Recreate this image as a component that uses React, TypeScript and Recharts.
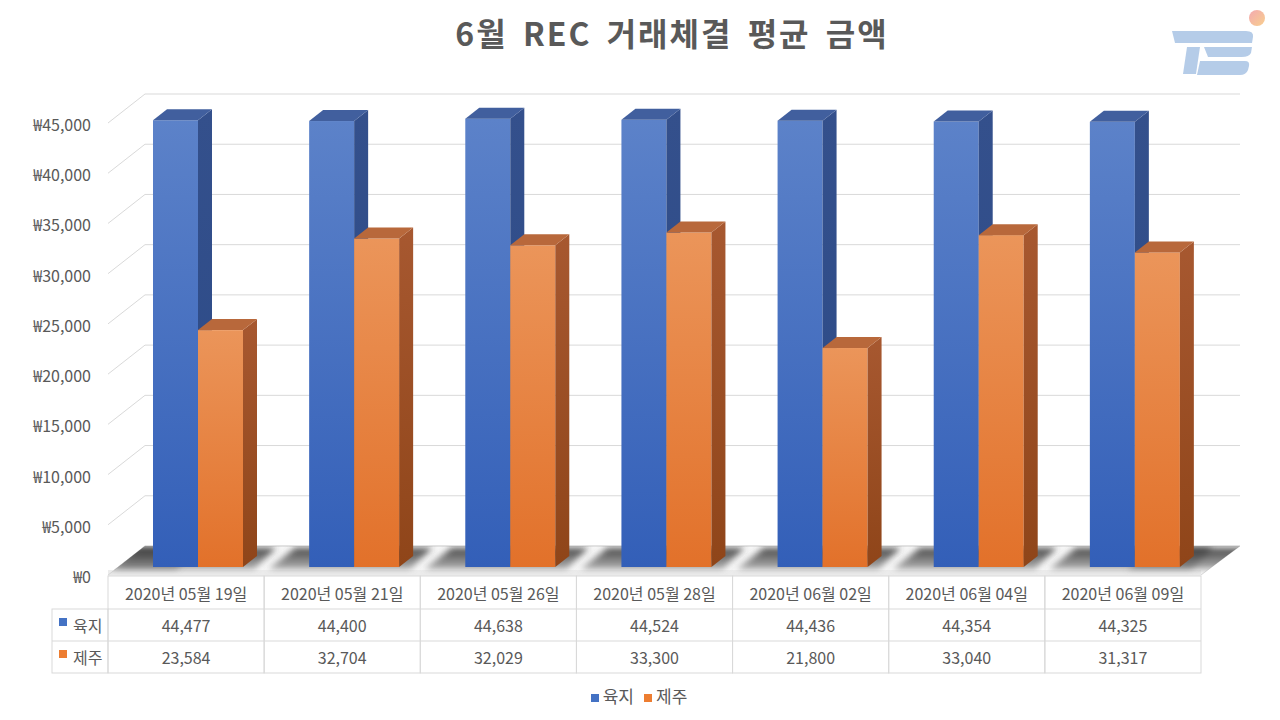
import React from 'react';
import { BarChart, Bar, XAxis, YAxis, CartesianGrid, Legend } from 'recharts';

const categories = [
  '2020년 05월 19일',
  '2020년 05월 21일',
  '2020년 05월 26일',
  '2020년 05월 28일',
  '2020년 06월 02일',
  '2020년 06월 04일',
  '2020년 06월 09일',
];
const yukjiValues = [44477, 44400, 44638, 44524, 44436, 44354, 44325];
const jejuValues = [23584, 32704, 32029, 33300, 21800, 33040, 31317];
const seriesNames = ['육지', '제주'];
const seriesColors = ['#4472C4', '#ED7D31'];
const yTicks = [0, 5000, 10000, 15000, 20000, 25000, 30000, 35000, 40000, 45000];
const title = '6월 REC 거래체결 평균 금액';

const data = categories.map((c, i) => ({ date: c, yukji: yukjiValues[i], jeju: jejuValues[i] }));

const FONT = '"Noto Sans CJK KR", "Noto Sans", sans-serif';
const TXT = '#595959';
const GRID = '#d9d9d9';
const DX = 14;
const DY = 11;
const SHIFT = 12;

const fmt = (v: number) => v.toLocaleString('en-US');

const makeShape = (kind: 'blue' | 'orange') => (props: any) => {
  const { x, y, width, height } = props;
  if (width == null || height == null) return null;
  const fx = x + SHIFT;
  const front = `url(#${kind}Front)`;
  const side = `url(#${kind}Side)`;
  const topC = kind === 'blue' ? '#415f9e' : '#b8683b';
  return (
    <g>
      <rect x={fx} y={y} width={width} height={height} fill={front} />
      <polygon
        points={`${fx + width},${y} ${fx + width + DX},${y - DY} ${fx + width + DX},${y + height - DY} ${fx + width},${y + height}`}
        fill={side}
      />
      <polygon
        points={`${fx},${y} ${fx + DX},${y - DY} ${fx + width + DX},${y - DY} ${fx + width},${y}`}
        fill={topC}
      />
    </g>
  );
};

const BlueShape = makeShape('blue');
const OrangeShape = makeShape('orange');

const horizontalLine = (p: any) => {
  const { x1, x2, y1, index } = p;
  const y = y1;
  const bottom = p.y != null && p.height != null ? p.y + p.height : null;
  const isBottom = bottom != null ? Math.abs(y - bottom) < 1 : index === 0;
  return (
    <g key={`h-${index}`}>
      {isBottom && (
        <g>
          <defs>
            <clipPath id="floorClip">
              <polygon points={`${x1},${y + 8} ${x1 + 37},${y - 21} ${x2 + 39},${y - 21} ${x2},${y + 8}`} />
            </clipPath>
          </defs>
          <polygon
            points={`${x1},${y + 8} ${x1 + 37},${y - 21} ${x2 + 39},${y - 21} ${x2},${y + 8}`}
            fill="#f7f7f7"
            stroke={GRID}
          />
          <polygon
            points={`${x1},${y + 3} ${x2},${y + 3} ${x2},${y + 8} ${x1},${y + 8}`}
            fill="#ececec"
          />
        </g>
      )}
      <line x1={x1} y1={y + 8} x2={x1 + 37} y2={y - 21} stroke={GRID} strokeWidth={1} />
      <line x1={x1 + 37} y1={y - 21} x2={x2 + 39} y2={y - 21} stroke={GRID} strokeWidth={1} />
    </g>
  );
};

const verticalLine = (p: any) => {
  const { x1, index } = p;
  const bottom = p.y + p.height;
  const c = x1;
  const t = bottom - 19;
  const b = bottom + 2;
  return (
    <g key={`v-${index}`} clipPath="url(#floorClip)">
      <polygon
        points={`${c - 47},${t} ${c + 90},${t} ${c + 68},${b} ${c - 74},${b}`}
        fill="url(#shadowGrad)"
        filter="url(#shadowBlur)"
      />
    </g>
  );
};

const YTick = (p: any) => {
  const { x, y, payload } = p;
  return (
    <text x={x - 17} y={y + 9} textAnchor="end" dominantBaseline="central" fill={TXT} fontSize={16} fontFamily={FONT}>
      {'₩' + fmt(payload.value)}
    </text>
  );
};

const TableTick = (p: any) => {
  const { x, y, payload } = p;
  const i = payload.index;
  const half = payload.offset && payload.offset > 10 ? payload.offset : 78.07;
  const top = y + 9;
  const r1 = top + 33;
  const r2 = top + 65;
  const r3 = top + 97;
  const left = x - half;
  const right = x + half;
  const ts = { fill: TXT, fontSize: 16, fontFamily: FONT, textAnchor: 'middle' as const, dominantBaseline: 'central' as const };
  return (
    <g>
      <rect x={left} y={top} width={right - left} height={r3 - top} fill="none" stroke={GRID} />
      <line x1={left} y1={r1} x2={right} y2={r1} stroke={GRID} />
      <line x1={left} y1={r2} x2={right} y2={r2} stroke={GRID} />
      <text x={x} y={(top + r1) / 2} {...ts}>{categories[i]}</text>
      <text x={x} y={(r1 + r2) / 2} {...ts}>{fmt(yukjiValues[i])}</text>
      <text x={x} y={(r2 + r3) / 2} {...ts}>{fmt(jejuValues[i])}</text>
      {i === 0 && (
        <g>
          <rect x={left - 56} y={r1} width={56} height={r3 - r1} fill="none" stroke={GRID} />
          <line x1={left - 56} y1={r2} x2={left} y2={r2} stroke={GRID} />
          {seriesNames.map((n, k) => {
            const cy = k === 0 ? (r1 + r2) / 2 : (r2 + r3) / 2;
            return (
              <g key={n}>
                <rect x={left - 49} y={cy - 7} width={8} height={8} fill={seriesColors[k]} />
                <text x={left - 35} y={cy} fill={TXT} fontSize={16} fontFamily={FONT} dominantBaseline="central">
                  {n}
                </text>
              </g>
            );
          })}
        </g>
      )}
    </g>
  );
};

export default function App() {
  return (
    <div style={{ position: 'absolute', left: 0, top: 0, width: 1280, height: 720, background: '#fff', fontFamily: FONT }}>
      <svg width={0} height={0} style={{ position: 'absolute' }}>
        <defs>
          <linearGradient id="blueFront" x1="0" y1="0" x2="0" y2="1">
            <stop offset="0%" stopColor="#5c82c9" />
            <stop offset="100%" stopColor="#335fb8" />
          </linearGradient>
          <linearGradient id="blueSide" x1="0" y1="0" x2="0" y2="1">
            <stop offset="0%" stopColor="#34508c" />
            <stop offset="100%" stopColor="#2b4a87" />
          </linearGradient>
          <linearGradient id="orangeFront" x1="0" y1="0" x2="0" y2="1">
            <stop offset="0%" stopColor="#eb955a" />
            <stop offset="100%" stopColor="#e2712a" />
          </linearGradient>
          <linearGradient id="orangeSide" x1="0" y1="0" x2="0" y2="1">
            <stop offset="0%" stopColor="#a75830" />
            <stop offset="100%" stopColor="#8f4519" />
          </linearGradient>
          <linearGradient id="shadowGrad" x1="0" y1="0" x2="0" y2="1">
            <stop offset="0%" stopColor="#3a3a3a" stopOpacity={0.95} />
            <stop offset="100%" stopColor="#7a7a7a" stopOpacity={0.6} />
          </linearGradient>
          <filter id="shadowBlur" x="-20%" y="-50%" width="140%" height="200%">
            <feGaussianBlur stdDeviation="3" />
          </filter>
          <linearGradient id="logoDot" x1="0" y1="0" x2="1" y2="1">
            <stop offset="0%" stopColor="#f3a9b0" />
            <stop offset="100%" stopColor="#f8cf8e" />
          </linearGradient>
        </defs>
      </svg>
      <BarChart
        width={1280}
        height={720}
        data={data}
        margin={{ top: 115, right: 79, bottom: 43, left: 48 }}
        barGap={0}
        barSize={45}
      >
        <CartesianGrid horizontal={horizontalLine} vertical={verticalLine} />
        <YAxis
          type="number"
          domain={[0, 45000]}
          ticks={yTicks}
          width={60}
          axisLine={false}
          tickLine={false}
          tickSize={0}
          tickMargin={0}
          tick={YTick}
          interval={0}
        />
        <XAxis
          dataKey="date"
          height={110}
          axisLine={false}
          tickLine={false}
          tickSize={0}
          tickMargin={0}
          interval={0}
          tick={TableTick}
        />
        <Bar dataKey="yukji" name={seriesNames[0]} fill={seriesColors[0]} shape={BlueShape} isAnimationActive={false} />
        <Bar dataKey="jeju" name={seriesNames[1]} fill={seriesColors[1]} shape={OrangeShape} isAnimationActive={false} />
        <Legend
          verticalAlign="middle"
          align="center"
          layout="horizontal"
          iconType="square"
          iconSize={8}
          wrapperStyle={{ top: 683, left: 4, width: 1280, fontSize: 17, fontFamily: FONT }}
          formatter={(v: any) => <span style={{ color: TXT }}>{v}</span>}
        />
      </BarChart>
      <svg width={1280} height={90} style={{ position: 'absolute', left: 0, top: 0, pointerEvents: 'none' }}>
        <text
          x={672}
          y={46}
          textAnchor="middle"
          fill={TXT}
          fontSize={32}
          fontWeight="bold"
          fontFamily={FONT}
          letterSpacing={2}
          wordSpacing={6}
        >
          {title}
        </text>
        <g fill="#aec7e6" opacity={0.9}>
          <path d="M1172,31 L1246,31 Q1254,31 1253,37 L1252,43 L1175,43 Z" />
          <path d="M1187,47 L1200,47 L1196,74 L1183,74 Z" />
          <path d="M1204,47 L1252,47 L1251,53 Q1249,57 1242,57 L1208,57 Z" />
          <path d="M1200,61 L1245,61 Q1250,61 1249,66 L1248,70 Q1246,75 1240,75 L1197,75 Z" />
        </g>
        <circle cx={1257} cy={18} r={8} fill="url(#logoDot)" />
      </svg>
    </div>
  );
}
